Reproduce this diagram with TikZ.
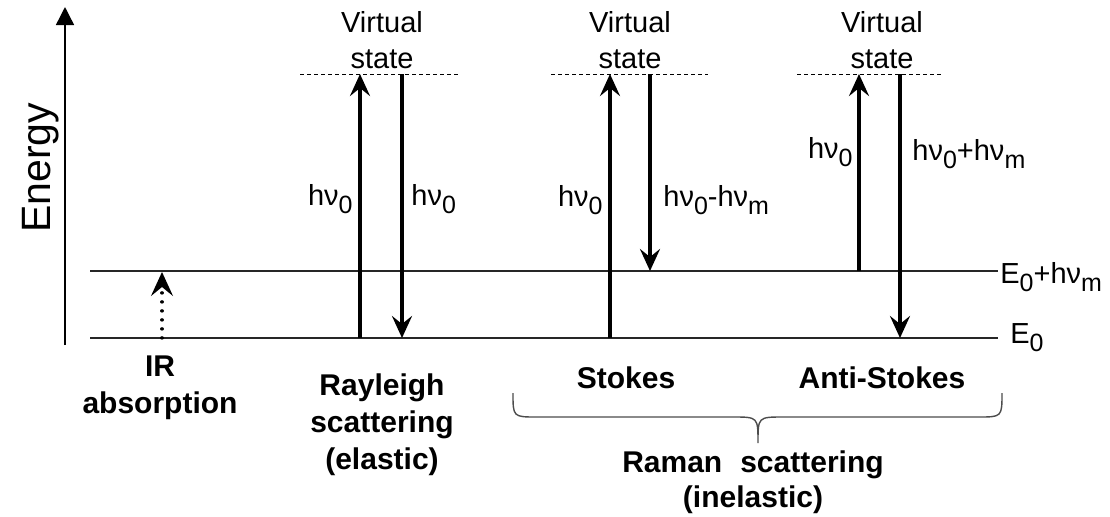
\documentclass[tikz,border=0pt]{standalone}
\usepackage{fontspec}
\setmainfont{Liberation Sans}
\usetikzlibrary{arrows.meta}

\newcommand{\sub}[1]{\raisebox{-4pt}{\fontsize{12.5}{12.5}\selectfont #1}}
\newcommand{\hn}[1]{hν\sub{#1}}

\tikzset{
  lvl/.style={line width=0.8pt, black!85},
  vstate/.style={line width=0.5pt, dash pattern=on 2pt off 1.5pt},
  tip/.style={-{Stealth[length=11pt,width=10pt,inset=4pt]}},
  photon/.style={line width=1.8pt, tip},
  lbl/.style={font=\fontsize{14.5}{19}\selectfont, inner sep=0pt},
  proc/.style={font=\fontsize{15}{18.5}\selectfont\bfseries, inner sep=0pt, align=center},
}

\begin{document}
\begin{tikzpicture}[x=0.5pt,y=-0.5pt]
\useasboundingbox (0,0) rectangle (1110,516);
% energy axis
\coordinate (ax0) at (65,345);
\coordinate (ax1) at (65,7);
\draw[line width=0.7pt, -{Triangle[length=9pt,width=9pt]}] (ax0) -- (ax1);
\node[lbl, font=\fontsize{20.5}{24}\selectfont, rotate=90, anchor=base west] (energy) at (50,233) {Energy};
% energy levels
\coordinate (g0) at (90,338);
\coordinate (g1) at (998,338);
\coordinate (m0) at (90,271);
\coordinate (m1) at (998,271);
\draw[lvl] (g0) -- (g1);
\draw[lvl] (m0) -- (m1);
\node[lbl, anchor=base west] (E0) at (1010,343) {E\sub{0}};
\node[lbl, anchor=base west] (E1) at (1000,283) {E\sub{0}+\hn{m}};
% virtual states
\foreach \n/\xa/\xb/\xt in {R/300/458/382, S/551/708/630, A/797/944/882} {
  \draw[vstate] (\xa,74) coordinate (\n-l) -- (\xb,74) coordinate (\n-r);
  \node[lbl, anchor=base] (\n-v1) at (\xt,32) {Virtual};
  \node[lbl, anchor=base] (\n-v2) at (\xt,68) {state};
}
% IR absorption
\coordinate (I1) at (162,338);
\coordinate (I2) at (162,272);
\coordinate (I3) at (162,276);
\coordinate (I4) at (162,292);
\draw[line width=1.6pt, line cap=round, dash pattern=on 0.1pt off 4.4pt] (I1) -- (I4);
\draw[line width=1pt, -{Stealth[length=12pt,width=11pt,inset=4.5pt]}] (I3) -- (I2);
\node[proc, anchor=north] (ir) at (160,355) {IR\\absorption};
% Rayleigh
\coordinate (R1) at (360,338);
\coordinate (R2) at (360,74);
\coordinate (R3) at (402,74);
\coordinate (R4) at (402,338);
\draw[photon] (R1) -- (R2);
\draw[photon] (R3) -- (R4);
\node[lbl, anchor=base east] (Rin) at (353,205) {\hn{0}};
\node[lbl, anchor=base west] (Rout) at (411,205) {\hn{0}};
\node[proc, anchor=north] (ray) at (382,373) {Rayleigh\\scattering\\(elastic)};
% Stokes
\coordinate (S1) at (610,338);
\coordinate (S2) at (610,74);
\coordinate (S3) at (650,74);
\coordinate (S4) at (650,271);
\draw[photon] (S1) -- (S2);
\draw[photon] (S3) -- (S4);
\node[lbl, anchor=base east] (Sin) at (603,206) {\hn{0}};
\node[lbl, anchor=base west] (Sout) at (663,206) {\hn{0}-\hn{m}};
\node[proc, anchor=base] (sto) at (626,388) {Stokes};
% anti-Stokes
\coordinate (A1) at (859,271);
\coordinate (A2) at (859,74);
\coordinate (A3) at (900,74);
\coordinate (A4) at (900,338);
\draw[photon] (A1) -- (A2);
\draw[photon] (A3) -- (A4);
\node[lbl, anchor=base east] (Ain) at (853,158) {\hn{0}};
\node[lbl, anchor=base west] (Aout) at (912,160) {\hn{0}+\hn{m}};
\node[proc, anchor=base] (anti) at (882,388) {Anti-Stokes};
% brace and Raman label
\draw[black!70, line width=0.7pt] (513,393) .. controls (513,417) .. (537,417) -- (733,417)
  .. controls (758,417) .. (758,443) .. controls (758,417) .. (783,417) -- (978,417)
  .. controls (1002,417) .. (1002,393);
\node[proc, anchor=north] (raman) at (753,450) {Raman\hspace{0.6em}scattering\\[-1pt](inelastic)};
\end{tikzpicture}
\end{document}
